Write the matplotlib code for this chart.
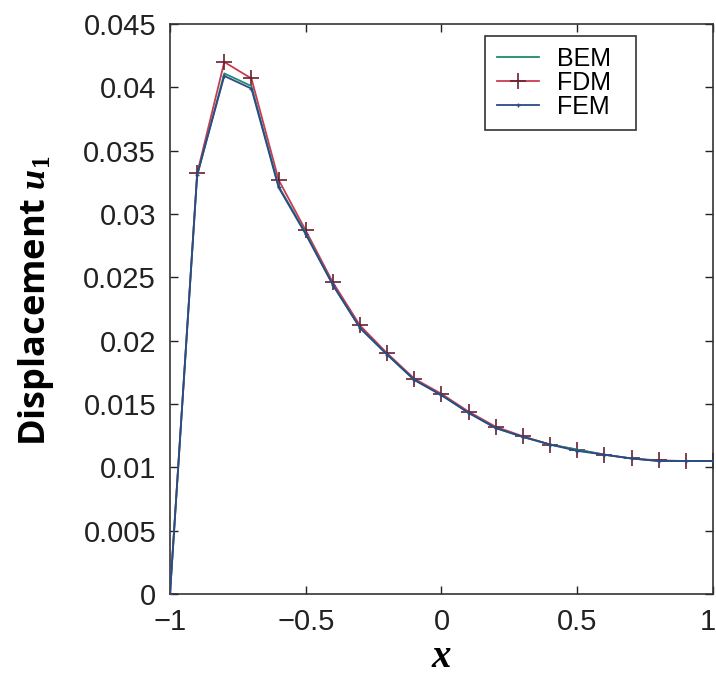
import matplotlib
matplotlib.use('Agg')
import matplotlib.pyplot as plt
import matplotlib.transforms as mtransforms

plt.rcParams['font.family'] = ['Liberation Sans', 'DejaVu Sans']
plt.rcParams['mathtext.fontset'] = 'custom'
plt.rcParams['mathtext.it'] = 'Liberation Serif:italic:bold'
plt.rcParams['mathtext.rm'] = 'Liberation Serif:bold'

# 数据
x_pos = [-1.0, -0.9, -0.8, -0.7, -0.6, -0.5, -0.4, -0.3, -0.2, -0.1, 0.0,
         0.1, 0.2, 0.3, 0.4, 0.5, 0.6, 0.7, 0.8, 0.9, 1.0]
u_fdm = [0.0, 0.0332, 0.0420, 0.0407, 0.0327, 0.0287, 0.0246, 0.0212, 0.0190, 0.0170, 0.0158,
         0.0144, 0.0132, 0.01245, 0.0118, 0.0114, 0.0110, 0.0107, 0.01055, 0.0105, 0.0105]
u_bem = [0.0, 0.0330, 0.0411, 0.0401, 0.0322, 0.0285, 0.0244, 0.0210, 0.0189, 0.0169, 0.0157,
         0.0143, 0.0131, 0.0124, 0.0118, 0.0114, 0.0110, 0.0107, 0.0105, 0.0105, 0.0105]
u_fem = [0.0, 0.0331, 0.0409, 0.0399, 0.0321, 0.0284, 0.0244, 0.0210, 0.0189, 0.0169, 0.0157,
         0.0143, 0.0131, 0.0124, 0.0118, 0.0113, 0.0110, 0.0107, 0.0105, 0.0105, 0.0105]

fig = plt.figure(figsize=(7.16, 6.75), dpi=100)
ax = fig.add_axes([0.2374, 0.12, 0.7584, 0.8444])

ax.plot(x_pos, u_bem, color='#1f8a70', linewidth=1.3, label='BEM  ', zorder=3)
ax.plot(x_pos, u_fdm, color='#cc3a52', linewidth=1.3, marker='+', markersize=12,
        markeredgewidth=1.2, markeredgecolor='#6a1f2e', label='FDM  ', zorder=2)
ax.plot(x_pos, u_fem, color='#2b4a86', linewidth=1.3, marker='+', markersize=3,
        markeredgewidth=1.0, label='FEM  ', zorder=4)

ax.set_xlim(-1, 1)
ax.set_ylim(0, 0.045)
ax.set_xticks([-1, -0.5, 0, 0.5, 1])
ax.set_xticklabels(['\u22121', '\u22120.5', '0', '0.5', '1'])
ax.set_yticks([0, 0.005, 0.01, 0.015, 0.02, 0.025, 0.03, 0.035, 0.04, 0.045])
ax.set_yticklabels(['0', '0.005', '0.01', '0.015', '0.02', '0.025', '0.03', '0.035', '0.04', '0.045'])
ax.tick_params(direction='in', top=True, right=True, length=6, width=1.0,
               labelsize=21, pad=10, colors='#222222')
for s in ax.spines.values():
    s.set_linewidth(1.2)
    s.set_color('#333333')

# 最右侧刻度标签稍微左移，避免被裁掉
last = ax.get_xticklabels()[-1]
last.set_transform(last.get_transform() + mtransforms.ScaledTranslation(-5 / 100, 0, fig.dpi_scale_trans))

ax.set_xlabel('$x$', fontsize=28, labelpad=2)
ax.set_ylabel('Displacement $u_1$', fontsize=26, fontweight='bold',
              family=['Open Sans', 'DejaVu Sans'], labelpad=20)
ax.yaxis.label.set_y(0.515)

leg = ax.legend(loc='upper right', bbox_to_anchor=(0.858, 0.979), fontsize=18,
                frameon=True, fancybox=False, framealpha=1, edgecolor='#333333',
                borderaxespad=0, handlelength=1.7, borderpad=0.45, labelspacing=0.0,
                handletextpad=0.7)
leg.get_frame().set_linewidth(1.2)

fig.savefig('out.png', dpi=100)
